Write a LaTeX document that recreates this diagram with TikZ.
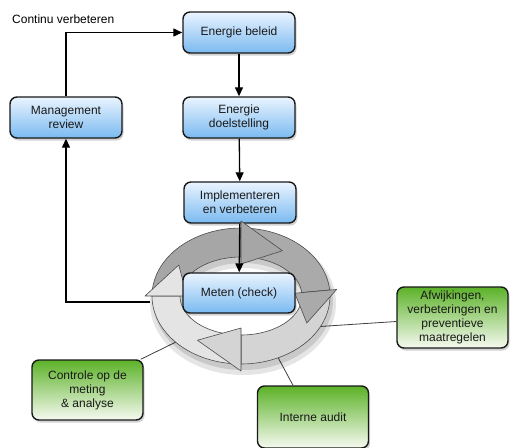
\documentclass[tikz,border=0pt]{standalone}
\usepackage{fontspec}
\setmainfont{Liberation Sans}
\usetikzlibrary{arrows.meta,shadows}
\definecolor{bluetop}{RGB}{234,244,255}
\definecolor{bluebot}{RGB}{122,186,240}
\definecolor{greentop}{RGB}{92,178,40}
\definecolor{greenbot}{RGB}{246,250,241}
\definecolor{ringA}{RGB}{166,166,166}
\definecolor{ringB}{RGB}{170,170,170}
\definecolor{ringC}{RGB}{212,212,212}
\definecolor{ringD}{RGB}{228,228,228}
\definecolor{txt}{RGB}{25,25,25}
\def\cx{241}\def\cy{296}
\def\ROx{89}\def\ROy{68}
\def\RIx{61}\def\RIy{39}
\def\RMx{76}\def\RMy{54}
\def\HOx{96}\def\HOy{75}
\def\HIx{54}\def\HIy{32}
\newcommand\ringbody[3]{%
  \draw[ringline, fill=#3]
    plot[domain=0:1, samples=30] ({\cx+\ROx*cos(#1+(#2-#1)*\x)},{\cy-\ROy*sin(#1+(#2-#1)*\x)})
    -- plot[domain=0:1, samples=30] ({\cx+\RIx*cos(#2+(#1-#2)*\x)},{\cy-\RIy*sin(#2+(#1-#2)*\x)})
    -- cycle;}
\newcommand\ringhead[3]{%
  \draw[ringline, fill=#3, line join=round]
    ({\cx+\HOx*cos(#1)},{\cy-\HOy*sin(#1)})
    -- ({\cx+\RMx*cos(#2)},{\cy-\RMy*sin(#2)})
    -- ({\cx+\HIx*cos(#1)},{\cy-\HIy*sin(#1)}) -- cycle;}
\begin{document}
\begin{tikzpicture}[x=1pt,y=-1pt,
  font=\fontsize{12}{14}\selectfont,
  box/.style={draw=black!90, line width=1.4pt, rounded corners=7pt,
    align=center, text=txt, inner sep=2pt,
    drop shadow={shadow xshift=1.5pt, shadow yshift=-2.5pt, opacity=0.35}},
  bluebox/.style={box, top color=bluetop, bottom color=bluebot,
    minimum width=112pt, minimum height=41pt},
  greenbox/.style={box, top color=greentop, bottom color=greenbot,
    minimum width=111pt, minimum height=61pt},
  arr/.style={draw=black, line width=1.3pt, -{Triangle[length=9pt,width=8pt]}},
  conn/.style={draw=black!75, line width=0.8pt},
  ringline/.style={draw=black!70, line width=0.6pt}]
\useasboundingbox (0,0) rectangle (510,447);
\fill[white] (0,0) rectangle (510,447);

% nodes
\node[bluebox] (beleid) at (239,32.5) {Energie beleid};
\node[bluebox] (review) at (66,117.5) {Management\\review};
\node[bluebox] (doel) at (239,117.5) {Energie\\doelstelling};
\node[bluebox] (impl) at (240,202.5) {Implementeren\\en verbeteren};
\node[greenbox] (afw) at (452.5,317.5) {Afwijkingen,\\verbeteringen en\\preventieve\\maatregelen};
\node[greenbox, minimum height=60pt] (controle) at (87.5,390) {Controle op de\\meting\\\& analyse};
\node[greenbox, minimum height=62pt] (audit) at (313,417) {Interne audit};
\node[text=black, anchor=west, inner sep=0pt] (cont) at (12,19) {Continu verbeteren};

% connectors behind the ring
\coordinate (rl) at (150,302);
\coordinate (ra) at (312,327);
\coordinate (rc) at (178,341);
\coordinate (rau) at (274,350);
\draw[arr] (rl) -| (review.south);
\draw[conn] (ra) -- ([yshift=-4pt]afw.west);
\draw[conn] (rc) -- ([xshift=-3pt]controle.north east);
\draw[conn] (rau) -- ([xshift=-20pt]audit.north);
\draw[arr] (review.north) |- (beleid.west);
\draw[arr] (beleid) -- (doel);
\draw[arr] (doel) -- (impl);

% ring shadow
\fill[even odd rule, black, opacity=0.10]
  (\cx+2,\cy+7) ellipse [x radius=93pt, y radius=72pt]
  (\cx+2,\cy+7) ellipse [x radius=57pt, y radius=35pt];
\fill[even odd rule, black, opacity=0.12]
  (\cx+2,\cy+5) ellipse [x radius=90pt, y radius=69pt]
  (\cx+2,\cy+5) ellipse [x radius=60pt, y radius=38pt];

% ring arrows
\ringbody{180}{90}{ringA}
\ringbody{90}{5}{ringB}
\ringbody{5}{-90}{ringC}
\ringbody{-90}{-180}{ringD}
\ringhead{90}{57}{ringA}
\ringhead{5}{-30}{ringB}
\ringhead{-90}{-125}{ringC}
\ringhead{-180}{-215}{ringD}

\node[bluebox, minimum height=40pt] (meten) at (239,293) {Meten (check)};
\draw[arr] (impl) -- (meten);
\end{tikzpicture}
\end{document}
